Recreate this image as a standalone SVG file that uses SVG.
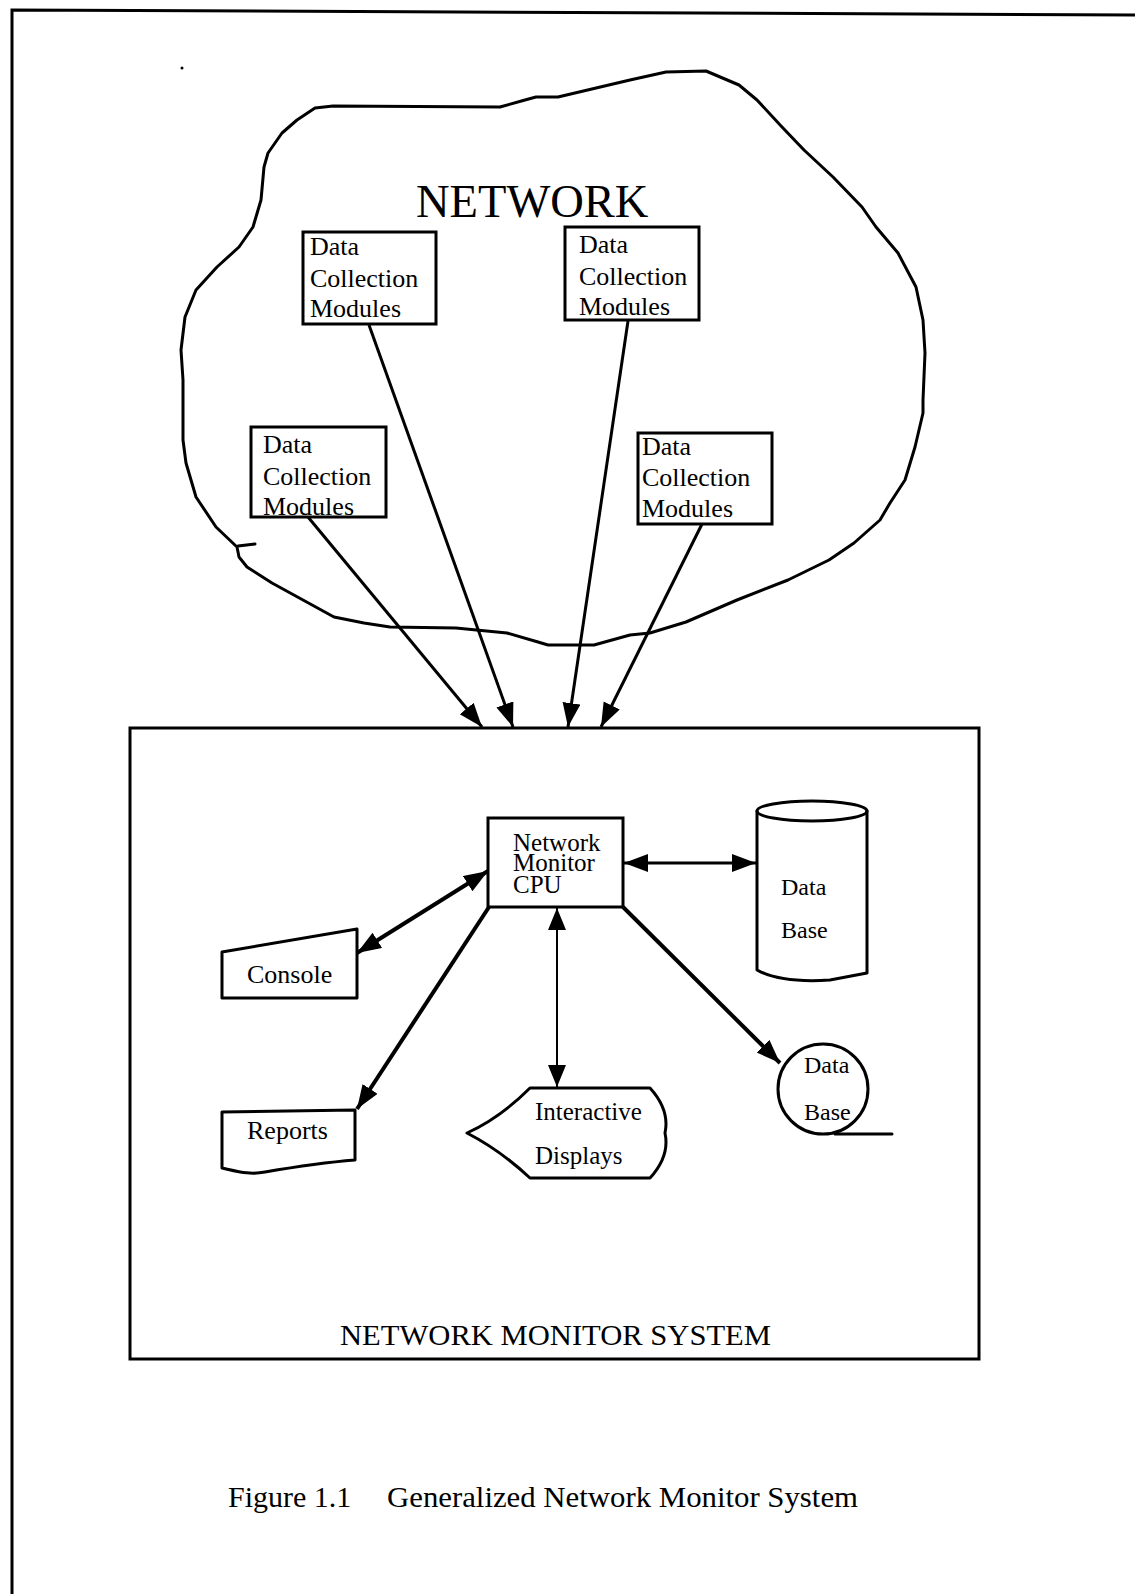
<svg xmlns="http://www.w3.org/2000/svg" width="1135" height="1594" viewBox="0 0 1135 1594">
<style>
  .ln{fill:none;stroke:#000;stroke-width:3;stroke-linejoin:round;stroke-linecap:round}
  .bx{fill:#fff;stroke:#000;stroke-width:3}
  .t{font-family:"Liberation Serif","Times New Roman",serif;fill:#000}
  .dcm{font-size:26px}
  .cn{stroke:#000;fill:none}
</style>
<defs>
  <marker id="ah" markerUnits="userSpaceOnUse" markerWidth="26" markerHeight="20" refX="24" refY="9" orient="auto-start-reverse">
    <path d="M0,0 L24,9 L0,18 z" fill="#000"/>
  </marker>
  <marker id="ahs" markerUnits="userSpaceOnUse" markerWidth="24" markerHeight="20" refX="22" refY="9" orient="auto-start-reverse">
    <path d="M0,0 L22,9 L0,18 z" fill="#000"/>
  </marker>
</defs>
<rect width="1135" height="1594" fill="#fff"/>

<g id="page-border">
  <path d="M12,1594 L12,10 L1135,15" fill="none" stroke="#000" stroke-width="3"/>
  <circle cx="182" cy="68" r="1.5" fill="#000"/>
</g>

<g id="network-cloud">
  <path class="ln" d="M315,108 L333,106 L500,107 L525,100 L536,97 L558,97 L630,80 L666,72 L706,71 L739,85 L757,100 L782,127 L804,150 L833,177 L862,207 L876,227 L898,253 L916,287 L923,320 L925,353 L923,400 L923,413 L915,447 L905,480 L890,503 L880,520 L854,543 L829,560 L788,580 L737,600 L686,622 L650,633 L630,635 L594,645 L548,645 L538,642 L507,633 L456,628 L390,627 L364,623 L334,617 L303,600 L272,583 L247,567 L239,557 L237,547 L216,527 L196,497 L186,463 L183,440 L183,380 L181,350 L185,317 L196,290 L217,267 L239,247 L253,227 L261,200 L264,167 L268,153 L282,133 L297,120 Z"/>
  <path class="ln" d="M238,546 L255,544"/>
  <text class="t" x="416" y="217" font-size="46.5">NETWORK</text>
</g>

<g id="dcm1">
  <rect class="bx" x="303" y="232" width="133" height="92"/>
  <text class="t dcm" x="310" y="255">Data</text>
  <text class="t dcm" x="310" y="287">Collection</text>
  <text class="t dcm" x="310" y="317">Modules</text>
</g>
<g id="dcm2">
  <rect class="bx" x="565" y="227" width="134" height="93"/>
  <text class="t dcm" x="579" y="253">Data</text>
  <text class="t dcm" x="579" y="285">Collection</text>
  <text class="t dcm" x="579" y="315">Modules</text>
</g>
<g id="dcm3">
  <rect class="bx" x="251" y="427" width="135" height="90"/>
  <text class="t dcm" x="263" y="453">Data</text>
  <text class="t dcm" x="263" y="485">Collection</text>
  <text class="t dcm" x="263" y="515">Modules</text>
</g>
<g id="dcm4">
  <rect class="bx" x="638" y="433" width="134" height="91"/>
  <text class="t dcm" x="642" y="455">Data</text>
  <text class="t dcm" x="642" y="486">Collection</text>
  <text class="t dcm" x="642" y="517">Modules</text>
</g>

<g id="monitor-system">
  <rect x="130" y="728" width="849" height="631" fill="none" stroke="#000" stroke-width="3"/>
  <text class="t" x="340" y="1345" font-size="30" textLength="431" lengthAdjust="spacingAndGlyphs">NETWORK MONITOR SYSTEM</text>
</g>

<g id="cpu">
  <rect class="bx" x="488" y="818" width="135" height="89"/>
  <text class="t" x="513" y="851" font-size="25">Network</text>
  <text class="t" x="513" y="871" font-size="25">Monitor</text>
  <text class="t" x="513" y="893" font-size="25">CPU</text>
</g>

<g id="database-disk">
  <path class="ln" d="M757,811 L757,970 C775,980 800,982 830,980 L867,973 L867,811"/>
  <ellipse cx="812" cy="811" rx="55" ry="10" fill="none" stroke="#000" stroke-width="3"/>
  <text class="t" x="781" y="895" font-size="24">Data</text>
  <text class="t" x="781" y="938" font-size="24">Base</text>
</g>

<g id="database-tape">
  <circle cx="823" cy="1089" r="45" fill="none" stroke="#000" stroke-width="3"/>
  <path class="ln" d="M835,1134 L892,1134"/>
  <text class="t" x="804" y="1073" font-size="24">Data</text>
  <text class="t" x="804" y="1120" font-size="24">Base</text>
</g>

<g id="console">
  <path class="ln" d="M222,952 L357,929 L357,998 L222,998 Z"/>
  <text class="t" x="247" y="983" font-size="26">Console</text>
</g>

<g id="reports">
  <path class="ln" d="M222,1112 L355,1110 L355,1160 C330,1162 300,1166 265,1172 C250,1175 240,1172 222,1168 Z"/>
  <text class="t" x="247" y="1139" font-size="26">Reports</text>
</g>

<g id="interactive-displays">
  <path class="ln" d="M467,1133 Q500,1118 530,1088 L650,1088 Q670,1110 665,1133 Q670,1156 650,1178 L530,1178 Q500,1150 467,1133 Z"/>
  <text class="t" x="535" y="1120" font-size="25">Interactive</text>
  <text class="t" x="535" y="1164" font-size="25">Displays</text>
</g>

<g id="connectors">
  <line class="cn" stroke-width="3" x1="308" y1="517" x2="482" y2="727" marker-end="url(#ah)"/>
  <line class="cn" stroke-width="3" x1="369" y1="325" x2="513" y2="727" marker-end="url(#ah)"/>
  <line class="cn" stroke-width="3" x1="628" y1="321" x2="568" y2="727" marker-end="url(#ah)"/>
  <line class="cn" stroke-width="3" x1="702" y1="524" x2="601" y2="727" marker-end="url(#ah)"/>
  <line class="cn" stroke-width="3" x1="624" y1="863" x2="756" y2="863" marker-start="url(#ah)" marker-end="url(#ah)"/>
  <line class="cn" stroke-width="4" x1="488" y1="871" x2="357" y2="953" marker-start="url(#ah)" marker-end="url(#ah)"/>
  <line class="cn" stroke-width="4" x1="489" y1="907" x2="357" y2="1109" marker-end="url(#ah)"/>
  <line class="cn" stroke-width="2" x1="557" y1="908" x2="557" y2="1087" marker-start="url(#ahs)" marker-end="url(#ahs)"/>
  <line class="cn" stroke-width="4" x1="623" y1="907" x2="780" y2="1063" marker-end="url(#ah)"/>
</g>

<g id="caption">
  <text class="t" x="228" y="1507" font-size="30">Figure 1.1</text>
  <text class="t" x="387" y="1507" font-size="30" textLength="471" lengthAdjust="spacingAndGlyphs">Generalized Network Monitor System</text>
</g>
</svg>
